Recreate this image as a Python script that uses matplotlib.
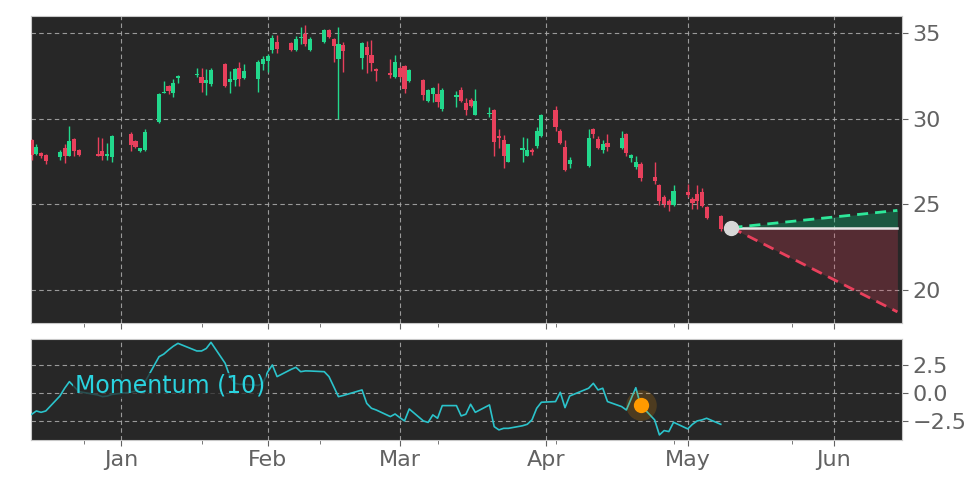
import matplotlib
matplotlib.use("Agg")
import matplotlib.pyplot as plt
import matplotlib.dates as mdates
import numpy as np
import pandas as pd

# daily candles, Dec 13 2022 .. May 8 2023
dates = pd.to_datetime([
    "2022-12-13", "2022-12-14", "2022-12-15", "2022-12-16", "2022-12-19", "2022-12-20", "2022-12-21",
    "2022-12-22", "2022-12-23", "2022-12-27", "2022-12-28", "2022-12-29", "2022-12-30",
    "2023-01-03", "2023-01-04", "2023-01-05", "2023-01-06", "2023-01-09", "2023-01-10", "2023-01-11",
    "2023-01-12", "2023-01-13", "2023-01-17", "2023-01-18", "2023-01-19", "2023-01-20", "2023-01-23",
    "2023-01-24", "2023-01-25", "2023-01-26", "2023-01-27", "2023-01-30", "2023-01-31",
    "2023-02-01", "2023-02-02", "2023-02-03", "2023-02-06", "2023-02-07", "2023-02-08", "2023-02-09",
    "2023-02-10", "2023-02-13", "2023-02-14", "2023-02-15", "2023-02-16", "2023-02-17", "2023-02-21",
    "2023-02-22", "2023-02-23", "2023-02-24", "2023-02-27", "2023-02-28",
    "2023-03-01", "2023-03-02", "2023-03-03", "2023-03-06", "2023-03-07", "2023-03-08", "2023-03-09",
    "2023-03-10", "2023-03-13", "2023-03-14", "2023-03-15", "2023-03-16", "2023-03-17", "2023-03-20",
    "2023-03-21", "2023-03-22", "2023-03-23", "2023-03-24", "2023-03-27", "2023-03-28", "2023-03-29",
    "2023-03-30", "2023-03-31",
    "2023-04-03", "2023-04-04", "2023-04-05", "2023-04-06", "2023-04-10", "2023-04-11", "2023-04-12",
    "2023-04-13", "2023-04-14", "2023-04-17", "2023-04-18", "2023-04-19", "2023-04-20", "2023-04-21",
    "2023-04-24", "2023-04-25", "2023-04-26", "2023-04-27", "2023-04-28",
    "2023-05-01", "2023-05-02", "2023-05-03", "2023-05-04", "2023-05-05", "2023-05-08",
])

opens = [28.77, 27.95, 27.99, 27.9, 27.74, 28.29, 27.84, 28.83, 28.19, 27.97, 28.09, 27.85, 27.74,
         29.12, 28.71, 28.09, 28.19, 29.79, 31.5, 31.9, 31.5, 32.4, 32.55, 32.45, 32.12, 32.03, 33.2,
         32.15, 32.3, 32.97, 32.4, 32.35, 33.2,
         33.4, 34.0, 34.5, 34.45, 34.0, 34.72, 34.95, 34.0, 34.5, 35.2, 34.65, 33.5, 34.35, 33.55,
         34.2, 33.75, 32.9, 32.7, 32.45,
         32.97, 33.1, 32.2, 32.3, 31.05, 31.45, 31.45, 30.6, 31.25, 31.7, 30.9, 31.1, 30.25, 30.28,
         30.5, 29.0, 28.77, 27.5, 28.2, 27.85, 28.2, 28.42, 29.0,
         30.5, 29.26, 28.38, 27.37, 27.25, 29.4, 28.8, 28.15, 28.6, 28.3, 29.1, 27.7, 27.2, 27.37,
         26.6, 26.1, 25.45, 25.17, 24.97,
         25.7, 25.3, 25.6, 25.7, 24.83, 24.3]
highs = [28.8, 28.5, 28.05, 27.95, 28.2, 28.5, 29.6, 28.85, 28.25, 28.95, 28.85, 28.6, 29.05,
         29.25, 28.75, 28.3, 29.4, 31.5, 32.2, 32.0, 32.35, 32.55, 32.95, 33.0, 32.9, 33.0, 33.25,
         32.8, 33.0, 33.3, 33.2, 33.45, 33.65,
         33.8, 34.9, 34.9, 34.5, 34.85, 35.4, 35.5, 34.8, 35.25, 35.25, 34.75, 35.4, 34.5, 34.5,
         34.55, 34.6, 32.95, 33.5, 33.75,
         33.1, 33.15, 32.9, 32.35, 31.75, 31.85, 32.1, 31.8, 31.65, 31.85, 31.2, 31.2, 31.75, 30.7,
         30.6, 29.4, 29.06, 28.55, 28.95, 28.85, 28.3, 29.5, 30.3,
         30.76, 29.4, 28.75, 27.75, 29.4, 29.45, 29.0, 28.75, 29.1, 29.3, 29.15, 27.95, 27.85, 27.5,
         27.45, 26.2, 25.55, 25.3, 26.1,
         26.2, 25.4, 26.1, 25.95, 24.9, 24.4]
lows = [27.6, 27.9, 27.7, 27.36, 27.6, 27.4, 27.8, 27.8, 27.85, 27.8, 27.6, 27.6, 27.5,
        28.1, 28.3, 28.05, 28.1, 29.75, 31.5, 31.45, 31.3, 32.1, 32.45, 31.6, 31.4, 31.95, 31.85,
        31.5, 31.95, 31.95, 32.35, 31.55, 32.85,
        32.75, 33.85, 33.85, 33.95, 33.95, 34.4, 34.25, 33.95, 34.45, 34.75, 33.35, 30.0, 32.75, 32.9,
        32.7, 32.8, 32.2, 32.4, 32.4,
        32.4, 31.5, 32.15, 31.1, 31.0, 31.0, 30.7, 30.45, 30.7, 31.0, 30.2, 30.7, 30.2, 30.1,
        27.8, 28.3, 27.13, 27.45, 27.5, 27.8, 27.9, 28.3, 28.95,
        29.3, 28.5, 26.95, 27.1, 27.2, 28.9, 28.25, 28.0, 28.1, 28.25, 27.8, 27.5, 27.05, 26.35,
        26.2, 24.95, 24.85, 24.6, 24.9,
        25.45, 24.75, 24.7, 24.85, 24.15, 23.45]
closes = [27.9, 28.38, 27.8, 27.54, 28.03, 27.8, 28.71, 28.09, 27.9, 27.85, 27.8, 27.95, 29.0,
          28.44, 28.38, 28.29, 29.22, 31.46, 31.54, 31.65, 32.1, 32.5, 32.62, 32.12, 32.25, 32.83, 31.9,
          32.35, 32.9, 32.32, 32.8, 33.3, 33.5,
          33.65, 34.75, 34.1, 34.05, 34.7, 34.8, 34.4, 34.7, 35.2, 34.8, 34.25, 34.4, 33.95, 34.45,
          33.75, 33.25, 32.8, 32.55, 33.3,
          32.47, 31.75, 32.85, 31.4, 31.7, 31.8, 31.0, 31.7, 31.4, 31.05, 30.5, 30.75, 31.05, 30.33,
          28.65, 28.9, 27.8, 28.5, 28.3, 28.2, 28.05, 29.26, 30.23,
          29.5, 28.6, 27.0, 27.6, 28.9, 29.1, 28.3, 28.5, 28.38, 28.87, 28.0, 27.9, 27.5, 26.53,
          26.35, 25.17, 25.0, 24.97, 25.8,
          25.53, 25.1, 25.2, 24.87, 24.2, 23.55]

momentum = [-1.88, -1.58, -1.7, -1.58, -0.24, 0.45, 1.04, 0.6, 0.15, -0.15, -0.3, -0.25, -0.1,
            0.1, 0.2, 0.5, 1.0, 3.27, 3.5, 3.87, 4.2, 4.46, 3.78, 3.78, 4.0, 4.55, 2.68,
            1.5, 0.9, 0.8, 0.8, 0.7, 0.9,
            1.9, 2.53, 1.49, 2.14, 2.32, 1.93, 2.0, 1.99, 1.93, 1.49, 0.6, -0.3, -0.2, 0.3,
            -0.9, -1.34, -1.49, -2.08, -1.85,
            -2.17, -2.47, -1.4, -2.47, -2.6, -1.93, -2.23, -1.1, -1.1, -2.02, -1.87, -0.98, -1.7, -1.04,
            -2.98, -3.27, -3.13, -3.13, -2.9, -2.77, -2.38, -1.34, -0.8,
            -0.74, 0.09, -1.28, -0.24, 0.45, 0.89, 0.3, 0.45, -0.74, -1.19, -1.49, -0.5, 0.5, -1.04,
            -2.38, -3.72, -3.33, -3.42, -2.59,
            -3.18, -2.77, -2.47, -2.38, -2.23, -2.77]

# forecast cone from the last price
fc_dates = pd.to_datetime(["2023-05-10 06:00", "2023-06-14 10:00"])
fc_start = 23.63
fc_upper = [23.63, 24.64]
fc_lower = [23.63, 18.7]

# highlighted momentum point
mark_date = pd.Timestamp("2023-04-21")
mark_value = -1.04

BG = "#272727"
UP = "#22d88c"
DOWN = "#e8405c"
GRID = "#a8a8a8"
TXT = "#626262"

fig = plt.figure(figsize=(9.72, 4.86), dpi=100)
ax = fig.add_axes([0.0319, 0.3354, 0.8961, 0.6317])
ax2 = fig.add_axes([0.0319, 0.0947, 0.8961, 0.2078], sharex=ax)

x = mdates.date2num(dates)
o = np.array(opens)
c = np.array(closes)
up = c >= o
colors = np.where(up, UP, DOWN)

ax.vlines(x, lows, highs, colors=colors, linewidth=1.0, zorder=3)
body = np.maximum(np.abs(c - o), 0.06)
ax.bar(x, body, bottom=np.minimum(o, c), width=0.88, color=colors, zorder=4)

xf = mdates.date2num(fc_dates)
ax.fill_between(xf, fc_start, fc_upper, color="#00c87a", alpha=0.3, linewidth=0, zorder=2)
ax.fill_between(xf, fc_start, fc_lower, color=DOWN, alpha=0.24, linewidth=0, zorder=2)
ax.plot(xf, [fc_start, fc_start], color="#e6e6e6", lw=1.8, zorder=3)
ax.plot(xf, fc_upper, color="#2ee89a", lw=2.0, ls=(0, (4, 2.5)), zorder=3)
ax.plot(xf, fc_lower, color=DOWN, lw=2.0, ls=(0, (4, 2.5)), zorder=3)
ax.plot(xf[0], fc_start, "o", color="#d8d8d8", markersize=10, zorder=5)

ax2.plot(x, momentum, color="#2bc3cb", lw=1.2, zorder=3)
xm = mdates.date2num(mark_date)
ax2.plot(xm, mark_value, "o", color="#ff9a00", markersize=22, alpha=0.18, markeredgewidth=0, zorder=4)
ax2.plot(xm, mark_value, "o", color="#ff9a00", markersize=11, markeredgewidth=0, zorder=5)
ax2.text(0.05, 0.535, "Momentum (10)", transform=ax2.transAxes, fontsize=17, color="#2ad3df",
         va="center", ha="left", zorder=6,
         bbox=dict(facecolor=BG, alpha=0.75, edgecolor="none", pad=1))

jan1 = mdates.date2num(pd.Timestamp("2023-01-01"))
ax.set_xlim(jan1 - 19.13, jan1 + 165.4)
ax.set_ylim(18.05, 36.02)
ax2.set_ylim(-4.17, 4.85)
ax.set_yticks([20, 25, 30, 35])
ax2.set_yticks([-2.5, 0.0, 2.5])

minor = mdates.date2num(pd.to_datetime(["2022-12-24", "2023-01-18", "2023-02-12", "2023-03-09",
                                         "2023-04-03", "2023-04-28", "2023-05-23"]))
for a in (ax, ax2):
    a.set_facecolor(BG)
    a.xaxis.set_major_locator(mdates.MonthLocator())
    a.xaxis.set_major_formatter(mdates.DateFormatter("%b"))
    a.set_xticks(minor, minor=True)
    a.yaxis.tick_right()
    a.grid(True, which="major", color=GRID, ls=(0, (4, 3)), lw=0.8, alpha=0.9)
    a.tick_params(axis="both", which="major", labelsize=16, colors=TXT, length=4, width=0.8)
    a.tick_params(axis="x", which="minor", length=3, width=0.6, color=TXT)
    for s in a.spines.values():
        s.set_color("#c8c8c8")
        s.set_linewidth(0.8)
    a.set_axisbelow(True)

plt.setp(ax.get_xticklabels(), visible=False)

fig.savefig("out.png", dpi=100, facecolor="white")
